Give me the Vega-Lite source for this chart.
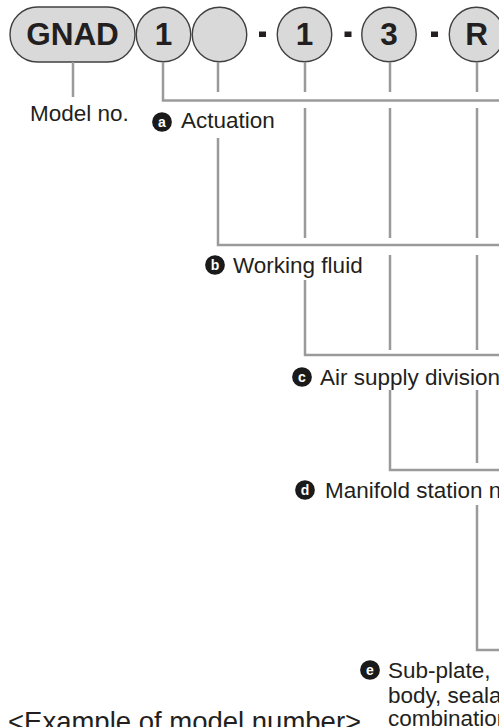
{
  "$schema": "https://vega.github.io/schema/vega-lite/v6.json",
  "width": 499,
  "height": 727,
  "padding": 0,
  "autosize": {"type": "none"},
  "background": "white",
  "view": {"stroke": null},
  "config": {"text": {"font": "Liberation Sans"}},
  "datasets": {
    "pill": [{"part": "GNAD", "x": 10, "x2": 135, "y": 7, "y2": 62}],
    "circles": [
      {"part": "a", "x": 163.5, "y": 34.5, "code": "1"},
      {"part": "b", "x": 219.5, "y": 34.5, "code": ""},
      {"part": "c", "x": 304.5, "y": 34.5, "code": "1"},
      {"part": "d", "x": 389, "y": 34.5, "code": "3"},
      {"part": "e", "x": 476.5, "y": 34.5, "code": "R"}
    ],
    "dashes": [
      {"x": 259, "x2": 266, "y": 31.5, "y2": 37},
      {"x": 344.5, "x2": 351.5, "y": 31.5, "y2": 37},
      {"x": 431, "x2": 438, "y": 31.5, "y2": 37}
    ],
    "lines": [
      {"seg": "m", "ord": 0, "x": 73, "y": 62}, {"seg": "m", "ord": 1, "x": 73, "y": 97},
      {"seg": "a", "ord": 0, "x": 163, "y": 62}, {"seg": "a", "ord": 1, "x": 163, "y": 100.5}, {"seg": "a", "ord": 2, "x": 505, "y": 100.5},
      {"seg": "b1", "ord": 0, "x": 218, "y": 62}, {"seg": "b1", "ord": 1, "x": 218, "y": 92},
      {"seg": "b2", "ord": 0, "x": 218, "y": 138}, {"seg": "b2", "ord": 1, "x": 218, "y": 245}, {"seg": "b2", "ord": 2, "x": 505, "y": 245},
      {"seg": "c1", "ord": 0, "x": 305, "y": 62}, {"seg": "c1", "ord": 1, "x": 305, "y": 92},
      {"seg": "c2", "ord": 0, "x": 305, "y": 108}, {"seg": "c2", "ord": 1, "x": 305, "y": 238},
      {"seg": "c3", "ord": 0, "x": 305, "y": 280}, {"seg": "c3", "ord": 1, "x": 305, "y": 355}, {"seg": "c3", "ord": 2, "x": 505, "y": 355},
      {"seg": "d1", "ord": 0, "x": 390, "y": 62}, {"seg": "d1", "ord": 1, "x": 390, "y": 92},
      {"seg": "d2", "ord": 0, "x": 390, "y": 108}, {"seg": "d2", "ord": 1, "x": 390, "y": 238},
      {"seg": "d3", "ord": 0, "x": 390, "y": 255}, {"seg": "d3", "ord": 1, "x": 390, "y": 350},
      {"seg": "d4", "ord": 0, "x": 390, "y": 390}, {"seg": "d4", "ord": 1, "x": 390, "y": 470}, {"seg": "d4", "ord": 2, "x": 505, "y": 470},
      {"seg": "e1", "ord": 0, "x": 477, "y": 62}, {"seg": "e1", "ord": 1, "x": 477, "y": 92},
      {"seg": "e2", "ord": 0, "x": 477, "y": 108}, {"seg": "e2", "ord": 1, "x": 477, "y": 238},
      {"seg": "e3", "ord": 0, "x": 477, "y": 255}, {"seg": "e3", "ord": 1, "x": 477, "y": 350},
      {"seg": "e4", "ord": 0, "x": 477, "y": 390}, {"seg": "e4", "ord": 1, "x": 477, "y": 463},
      {"seg": "e5", "ord": 0, "x": 477, "y": 505}, {"seg": "e5", "ord": 1, "x": 477, "y": 650}, {"seg": "e5", "ord": 2, "x": 505, "y": 650}
    ],
    "badges": [
      {"letter": "a", "x": 162, "y": 122},
      {"letter": "b", "x": 215, "y": 265},
      {"letter": "c", "x": 302, "y": 377},
      {"letter": "d", "x": 305, "y": 490},
      {"letter": "e", "x": 370, "y": 670}
    ],
    "labels": [
      {"label": "Model no.", "x": 30, "y": 113},
      {"label": "Actuation", "x": 181, "y": 120},
      {"label": "Working fluid", "x": 233, "y": 265},
      {"label": "Air supply division", "x": 320, "y": 377},
      {"label": "Manifold station no.", "x": 325, "y": 490},
      {"label": "Sub-plate,", "x": 388, "y": 670},
      {"label": "body, sealant", "x": 388, "y": 695},
      {"label": "combination", "x": 388, "y": 718}
    ],
    "title": [{"label": "<Example of model number>", "x": 8, "y": 731}]
  },
  "layer": [
    {
      "data": {"name": "pill"},
      "mark": {"type": "rect", "cornerRadius": 27.5, "fill": "#d9d9d9", "stroke": "#404040", "strokeWidth": 1.4},
      "encoding": {
        "x": {"field": "x", "type": "quantitative", "scale": {"domain": [0, 499], "nice": false}, "axis": null},
        "x2": {"field": "x2"},
        "y": {"field": "y", "type": "quantitative", "scale": {"domain": [0, 727], "nice": false, "reverse": true}, "axis": null},
        "y2": {"field": "y2"}
      }
    },
    {
      "data": {"name": "circles"},
      "mark": {"type": "point", "shape": "circle", "filled": true, "size": 2970, "fill": "#d9d9d9", "stroke": "#404040", "strokeWidth": 1.4, "opacity": 1},
      "encoding": {
        "x": {"field": "x", "type": "quantitative", "scale": {"domain": [0, 499], "nice": false}, "axis": null},
        "y": {"field": "y", "type": "quantitative", "scale": {"domain": [0, 727], "nice": false, "reverse": true}, "axis": null}
      }
    },
    {
      "data": {"name": "dashes"},
      "mark": {"type": "rect", "fill": "#231f20"},
      "encoding": {
        "x": {"field": "x", "type": "quantitative", "scale": {"domain": [0, 499], "nice": false}, "axis": null},
        "x2": {"field": "x2"},
        "y": {"field": "y", "type": "quantitative", "scale": {"domain": [0, 727], "nice": false, "reverse": true}, "axis": null},
        "y2": {"field": "y2"}
      }
    },
    {
      "data": {"name": "lines"},
      "mark": {"type": "line", "stroke": "#9a9a9c", "strokeWidth": 2.5, "strokeJoin": "miter", "strokeCap": "butt"},
      "encoding": {
        "x": {"field": "x", "type": "quantitative", "scale": {"domain": [0, 499], "nice": false}, "axis": null},
        "y": {"field": "y", "type": "quantitative", "scale": {"domain": [0, 727], "nice": false, "reverse": true}, "axis": null},
        "detail": {"field": "seg", "type": "nominal"},
        "order": {"field": "ord", "type": "quantitative"}
      }
    },
    {
      "data": {"name": "pill"},
      "mark": {"type": "text", "fontWeight": "bold", "fontSize": 31.5, "color": "#231f20", "align": "center", "baseline": "middle", "dy": 1},
      "encoding": {
        "x": {"datum": 72.5, "type": "quantitative", "scale": {"domain": [0, 499], "nice": false}, "axis": null},
        "y": {"datum": 34.5, "type": "quantitative", "scale": {"domain": [0, 727], "nice": false, "reverse": true}, "axis": null},
        "text": {"field": "part"}
      }
    },
    {
      "data": {"name": "circles"},
      "mark": {"type": "text", "fontWeight": "bold", "fontSize": 31.5, "color": "#231f20", "align": "center", "baseline": "middle", "dy": 1},
      "encoding": {
        "x": {"field": "x", "type": "quantitative", "scale": {"domain": [0, 499], "nice": false}, "axis": null},
        "y": {"field": "y", "type": "quantitative", "scale": {"domain": [0, 727], "nice": false, "reverse": true}, "axis": null},
        "text": {"field": "code"}
      }
    },
    {
      "data": {"name": "badges"},
      "mark": {"type": "point", "shape": "circle", "filled": true, "size": 390, "fill": "#1a1a1a", "opacity": 1},
      "encoding": {
        "x": {"field": "x", "type": "quantitative", "scale": {"domain": [0, 499], "nice": false}, "axis": null},
        "y": {"field": "y", "type": "quantitative", "scale": {"domain": [0, 727], "nice": false, "reverse": true}, "axis": null}
      }
    },
    {
      "data": {"name": "badges"},
      "mark": {"type": "text", "fontSize": 14, "fontWeight": "bold", "color": "white", "align": "center", "baseline": "middle", "dy": 1},
      "encoding": {
        "x": {"field": "x", "type": "quantitative", "scale": {"domain": [0, 499], "nice": false}, "axis": null},
        "y": {"field": "y", "type": "quantitative", "scale": {"domain": [0, 727], "nice": false, "reverse": true}, "axis": null},
        "text": {"field": "letter"}
      }
    },
    {
      "data": {"name": "labels"},
      "mark": {"type": "text", "fontSize": 22.5, "color": "#231f20", "align": "left", "baseline": "middle", "dy": 1},
      "encoding": {
        "x": {"field": "x", "type": "quantitative", "scale": {"domain": [0, 499], "nice": false}, "axis": null},
        "y": {"field": "y", "type": "quantitative", "scale": {"domain": [0, 727], "nice": false, "reverse": true}, "axis": null},
        "text": {"field": "label"}
      }
    },
    {
      "data": {"name": "title"},
      "mark": {"type": "text", "fontSize": 27.5, "color": "#231f20", "align": "left", "baseline": "alphabetic"},
      "encoding": {
        "x": {"field": "x", "type": "quantitative", "scale": {"domain": [0, 499], "nice": false}, "axis": null},
        "y": {"field": "y", "type": "quantitative", "scale": {"domain": [0, 727], "nice": false, "reverse": true}, "axis": null},
        "text": {"field": "label"}
      }
    }
  ]
}
